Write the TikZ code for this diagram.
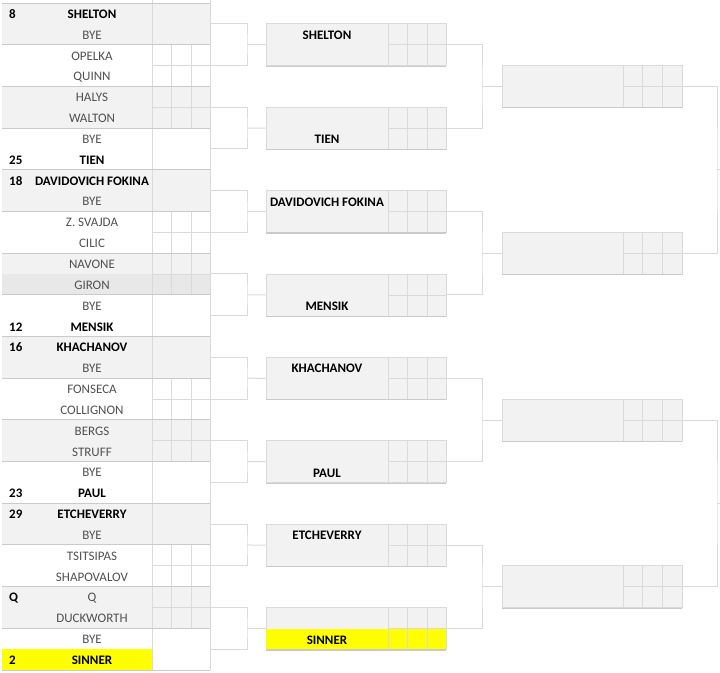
\documentclass[tikz,border=0pt]{standalone}
\usepackage{fontspec}
\setmainfont{Carlito}
\definecolor{cg}{HTML}{F2F2F2}
\definecolor{cgd}{HTML}{E8E8E8}
\definecolor{ln}{HTML}{DADADA}
\definecolor{lnd}{HTML}{CACACA}
\definecolor{txt}{HTML}{505050}
\definecolor{yel}{HTML}{FFFF00}
\tikzset{
 reg/.style={font=\fontsize{13}{15}\selectfont, text=txt, inner sep=0pt, text height=8.4pt, text depth=0pt},
 bld/.style={font=\fontsize{13}{15}\selectfont\bfseries, text=black, inner sep=0pt, text height=8.4pt, text depth=0pt},
 seedt/.style={bld, anchor=west},
 gridl/.style={draw=ln, line width=0.8pt},
 grpline/.style={draw=lnd, line width=1pt},
 conn/.style={draw=ln, line width=1pt},
 grp/.style={minimum width=208pt, minimum height=41.69pt, inner sep=0pt, draw=none},
 box/.style={minimum width=180pt, minimum height=42pt, inner sep=0pt, fill=cg, draw=ln, line width=0.8pt},
}
\begin{document}
\begin{tikzpicture}[x=1pt,y=-1pt]
\useasboundingbox (0,0) rectangle (720,672);
% ---------- left column ----------
\foreach \g in {0,2,...,14} \fill[cg] (2,{3+\g*41.69}) rectangle (210,{3+(\g+1)*41.69});
\fill[cgd] (2,{3+13*20.84}) rectangle (210,{3+14*20.84});
\fill[yel] (2,{3+31*20.84}) rectangle (152,{3+32*20.84});
\foreach \g in {0,...,15} \node[grp] (g\g) at (106,{3+(\g+0.5)*41.69}) {};
\foreach \g in {1,2,5,6,9,10,13,14} {
  \draw[gridl] (171.5,{3+\g*41.69}) -- (171.5,{3+(\g+1)*41.69});
  \draw[gridl] (191,{3+\g*41.69}) -- (191,{3+(\g+1)*41.69});
  \draw[gridl] (152,{3+(\g+0.5)*41.69}) -- (210,{3+(\g+0.5)*41.69});
}
\draw[gridl] (152,0) -- (152,670);
\draw[gridl] (210,0) -- (210,670);
\foreach \g in {0,...,16} \draw[grpline] (2,{3+\g*41.69}) -- (210,{3+\g*41.69});
% names
\foreach \r/\nm in {0/SHELTON,7/TIEN,8/DAVIDOVICH FOKINA,15/MENSIK,16/KHACHANOV,23/PAUL,24/ETCHEVERRY,31/SINNER}
  \node[bld] (n\r) at (92,{3.8+(\r+0.5)*20.84}) {\nm};
\foreach \r/\nm in {1/BYE,2/OPELKA,3/QUINN,4/HALYS,5/WALTON,6/BYE,9/BYE,10/Z. SVAJDA,11/CILIC,12/NAVONE,13/GIRON,14/BYE,17/BYE,18/FONSECA,19/COLLIGNON,20/BERGS,21/STRUFF,22/BYE,25/BYE,26/TSITSIPAS,27/SHAPOVALOV,28/Q,29/DUCKWORTH,30/BYE}
  \node[reg] (n\r) at (92,{3.8+(\r+0.5)*20.84}) {\nm};
\foreach \r/\s in {0/8,7/25,8/18,15/12,16/16,23/23,24/29,28/Q,31/2}
  \node[seedt] (s\r) at (9,{3.8+(\r+0.5)*20.84}) {\s};
% ---------- middle column ----------
\foreach \k in {0,...,7} {
  \node[box] (m\k) at (356,{44.7+\k*83.4}) {};
}
\fill[yel] (266,{44.7+7*83.4}) rectangle (446,{44.7+7*83.4+21});
\foreach \k in {0,...,7} {
  \draw[gridl] (388,{23.7+\k*83.4}) -- (388,{65.7+\k*83.4});
  \draw[gridl] (407.5,{23.7+\k*83.4}) -- (407.5,{65.7+\k*83.4});
  \draw[gridl] (427,{23.7+\k*83.4}) -- (427,{65.7+\k*83.4});
  \draw[gridl] (388,{44.7+\k*83.4}) -- (446,{44.7+\k*83.4});
  \draw[draw=lnd, line width=1.2pt] (m\k.south west) -- (m\k.south east);
}
\node[bld] (t0) at (327,{35+0*83.4}) {SHELTON};
\node[bld] (t1) at (327,{56+1*83.4}) {TIEN};
\node[bld] (t2) at (327,{35+2*83.4}) {DAVIDOVICH FOKINA};
\node[bld] (t3) at (327,{56+3*83.4}) {MENSIK};
\node[bld] (t4) at (327,{35+4*83.4}) {KHACHANOV};
\node[bld] (t5) at (327,{56+5*83.4}) {PAUL};
\node[bld] (t6) at (327,{35+6*83.4}) {ETCHEVERRY};
\node[bld] (t7) at (327,{56+7*83.4}) {SINNER};
% left -> middle brackets
\foreach \p in {0,...,7} {
  \pgfmathtruncatemacro\a{2*\p}
  \pgfmathtruncatemacro\b{2*\p+1}
  \coordinate (j\p) at (247,{3+(2*\p+1)*41.69});
  \draw[conn] (g\a.east) -| (j\p) |- (g\b.east);
  \draw[conn] (j\p) -- (m\p.west);
}
% ---------- right column ----------
\foreach \j in {0,...,3} {
  \node[box] (r\j) at (592,{86.4+\j*166.8}) {};
  \draw[gridl] (623,{65.4+\j*166.8}) -- (623,{107.4+\j*166.8});
  \draw[gridl] (642.7,{65.4+\j*166.8}) -- (642.7,{107.4+\j*166.8});
  \draw[gridl] (662,{65.4+\j*166.8}) -- (662,{107.4+\j*166.8});
  \draw[gridl] (623,{86.4+\j*166.8}) -- (682,{86.4+\j*166.8});
  \draw[draw=lnd, line width=1.2pt] (r\j.south west) -- (r\j.south east);
  \pgfmathtruncatemacro\a{2*\j}
  \pgfmathtruncatemacro\b{2*\j+1}
  \coordinate (k\j) at (482,{86.4+\j*166.8});
  \draw[conn] (m\a.east) -| (k\j) |- (m\b.east);
  \draw[conn] (k\j) -- (r\j.west);
}
% ---------- final brackets ----------
\foreach \q in {0,1} {
  \pgfmathtruncatemacro\a{2*\q}
  \pgfmathtruncatemacro\b{2*\q+1}
  \coordinate (f\q) at (717,{169.8+\q*333.6});
  \coordinate (fo\q) at (722,{169.8+\q*333.6});
  \draw[conn] (r\a.east) -| (f\q) |- (r\b.east);
  \draw[conn] (f\q) -- (fo\q);
}
\end{tikzpicture}
\end{document}
